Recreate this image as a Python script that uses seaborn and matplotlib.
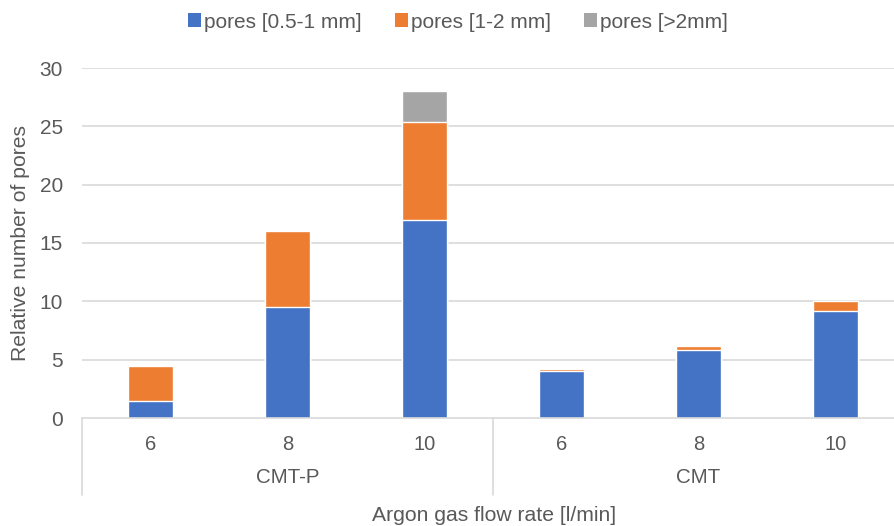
import matplotlib
matplotlib.use("Agg")
import matplotlib.pyplot as plt
import matplotlib.transforms as mtransforms
from matplotlib.patches import Patch
import seaborn as sns
import pandas as pd
import numpy as np

groups = ["CMT-P", "CMT-P", "CMT-P", "CMT", "CMT", "CMT"]
flow_rates = ["6", "8", "10", "6", "8", "10"]
pores_small = [1.5, 9.5, 17.0, 4.0, 5.8, 9.2]
pores_medium = [3.0, 6.5, 8.4, 0.2, 0.4, 0.8]
pores_large = [0.0, 0.0, 2.6, 0.0, 0.0, 0.0]
series_names = ["pores [0.5-1 mm]", "pores [1-2 mm]", "pores [>2mm]"]
colors = ["#4472C4", "#ED7D31", "#A5A5A5"]
yticks = [0, 5, 10, 15, 20, 25, 30]

sns.set_theme(style="white")
plt.rcParams["font.family"] = ["Liberation Sans", "DejaVu Sans"]
text_color = "#595959"
grid_color = "#D9D9D9"

keys = [f"{g} {f}" for g, f in zip(groups, flow_rates)]
s = np.array(pores_small)
m = np.array(pores_medium)
l = np.array(pores_large)
df = pd.DataFrame({"key": keys, "blue": s, "orange": s + m, "gray": s + m + l})

fig = plt.figure(figsize=(8.94, 5.26), dpi=100)
ax = fig.add_axes([82 / 894, 1 - 418 / 526, 822 / 894, 350 / 526])

ax.set_axisbelow(True)
for y in yticks[1:]:
    ax.axhline(y, color=grid_color, lw=1.2, zorder=0)

for col, c in zip(["gray", "orange", "blue"], colors[::-1]):
    sns.barplot(data=df, x="key", y=col, order=keys, color=c, width=0.333,
                saturation=1, ax=ax, zorder=2)

ax.set_ylim(0, 30)
ax.set_xlim(-0.5, 5.5)
ax.set_yticks(yticks)
ax.set_yticklabels([str(v) for v in yticks], fontsize=15, color=text_color)
ax.tick_params(axis="y", length=0, pad=13.7)
ax.set_xticks(range(len(keys)))
ax.set_xticklabels(flow_rates, fontsize=14.5, color=text_color)
ax.tick_params(axis="x", length=0, pad=12)
ax.set_xlabel("")
ax.set_ylabel("Relative number of pores", fontsize=15.2, color=text_color)
ax.yaxis.label.set_va("center")
ax.yaxis.set_label_coords((21 - 82) / 822, 0.5)
for sp in ["left", "right", "top"]:
    ax.spines[sp].set_visible(False)
ax.spines["bottom"].set_color(grid_color)
ax.spines["bottom"].set_linewidth(1.2)

trans = mtransforms.blended_transform_factory(ax.transData, ax.transAxes)
depth = -(495 - 418) / 350
for xs in [-0.5, 2.5, 5.5]:
    ax.plot([xs, xs], [0, depth], color=grid_color, lw=1.2, transform=trans, clip_on=False)

group_names = ["CMT-P", "CMT"]
for i, g in enumerate(group_names):
    ax.text(1 + 3 * i, -(483 - 418) / 350, g, transform=trans, ha="center", va="baseline",
            fontsize=14.8, color=text_color)

fig.text(494 / 894, 1 - 521 / 526, "Argon gas flow rate [l/min]", ha="center", va="baseline",
         fontsize=15.2, color=text_color)

handles = [Patch(facecolor=c, edgecolor="none") for c in colors]
fig.legend(handles, series_names, loc="center", bbox_to_anchor=(458 / 894, 1 - 22 / 526),
           ncol=3, frameon=False, fontsize=15, labelcolor=text_color,
           handlelength=0.62, handleheight=0.62, handletextpad=0.15, columnspacing=1.6,
           borderpad=0, borderaxespad=0)

fig.savefig("out.png", dpi=100)
